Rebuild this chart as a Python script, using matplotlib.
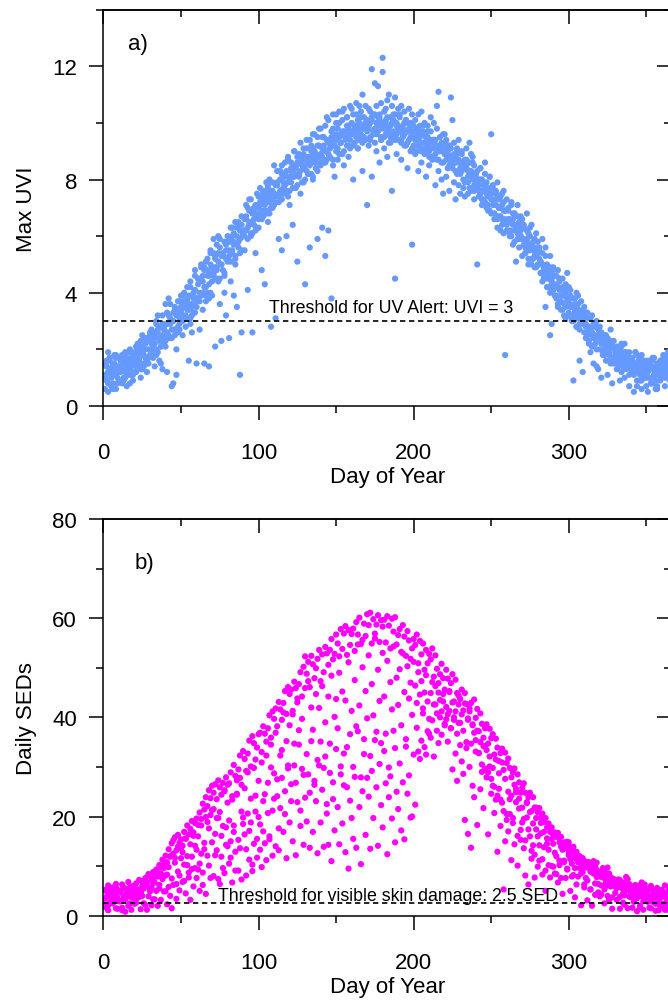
import matplotlib
matplotlib.use('Agg')
import matplotlib.pyplot as plt
import numpy as np
from matplotlib.ticker import MultipleLocator

plt.rcParams['font.family'] = ['Liberation Sans', 'DejaVu Sans']

# ---------------- data ----------------
# Max UVI, four yearly series, one value per day of year (1..365)
uvi_a = [
    1.5,0.9,1.2,1.7,1.0,1.4,1.8,1.1,0.8,1.3,
    1.2,1.8,1.6,1.0,1.4,1.9,1.3,1.7,1.1,1.5,
    2.1,1.5,1.7,2.3,1.9,1.4,2.0,1.6,2.4,1.8,
    2.0,2.6,2.2,1.8,2.7,2.4,2.1,2.9,2.5,2.3,
    2.6,3.2,2.9,2.4,3.0,2.7,3.4,2.8,3.1,3.3,
    3.0,3.6,3.2,3.8,3.4,2.9,3.5,3.9,3.3,3.7,
    3.8,4.4,3.9,4.6,4.2,3.7,4.8,4.3,4.0,4.7,
    4.6,5.2,4.8,5.4,4.5,5.0,5.3,4.7,5.5,5.1,
    5.3,5.9,5.4,5.8,5.2,6.0,5.6,6.2,5.5,6.1,
    6.0,6.6,6.3,6.9,6.1,6.5,6.8,6.2,7.0,6.6,
    6.8,7.3,6.7,7.1,7.5,6.9,7.2,7.6,7.0,7.4,
    7.2,7.8,7.4,8.0,7.3,7.7,8.1,7.5,7.9,7.6,
    8.3,7.7,8.1,8.5,7.8,8.2,8.6,7.9,8.4,8.0,
    8.7,8.2,8.5,9.0,8.1,8.6,8.9,8.3,8.8,8.5,
    9.1,8.6,9.0,8.7,9.3,8.8,9.2,8.5,9.4,9.0,
    9.4,8.9,9.3,9.7,9.0,9.5,9.2,9.8,9.1,9.6,
    9.2,9.8,9.5,9.1,10.0,9.6,9.3,9.9,9.4,10.1,
    9.9,9.4,10.2,9.6,9.3,10.0,9.7,10.3,9.5,9.8,
    9.5,10.1,9.7,9.3,9.9,10.2,9.6,9.4,10.0,9.8,
    9.8,9.3,9.6,10.0,9.2,9.7,9.4,9.9,9.1,9.5,
    9.6,9.0,9.4,9.7,9.1,9.3,8.9,9.5,9.2,8.8,
    9.3,8.8,9.1,9.4,8.7,9.0,9.2,8.6,9.1,8.9,
    8.9,8.4,8.8,9.1,8.5,8.7,8.3,8.9,8.6,8.2,
    8.5,8.0,8.4,8.7,7.9,8.3,8.1,8.6,7.8,8.2,
    7.9,7.4,8.0,7.6,7.2,7.8,7.5,7.1,7.7,7.3,
    7.3,6.8,7.1,7.4,6.7,7.0,6.6,7.2,6.9,6.5,
    6.6,6.1,6.5,6.8,6.2,6.4,5.9,6.3,6.0,6.4,
    5.9,5.4,5.8,6.1,5.5,5.7,5.2,5.6,5.3,5.5,
    5.2,4.7,5.0,4.6,5.3,4.8,4.5,4.9,4.3,4.6,
    4.3,3.8,4.2,4.5,3.9,4.1,3.6,4.0,3.7,3.8,
    3.6,3.1,3.5,3.8,3.2,3.4,2.9,3.3,3.0,3.2,
    2.9,2.5,2.8,3.1,2.6,2.4,2.9,2.3,2.7,2.5,
    2.4,1.9,2.2,2.5,2.0,1.8,2.3,2.1,1.7,2.0,
    1.9,1.5,1.8,2.1,1.6,1.4,1.9,1.5,1.7,1.3,
    1.6,1.2,1.5,1.8,1.3,1.1,1.6,1.4,1.0,1.5,
    1.4,1.0,1.3,1.6,1.1,0.9,1.4,1.2,1.5,1.0,
    1.3,1.6,1.1,1.4,1.2]
uvi_b = [
    1.0,1.6,1.9,1.2,0.7,1.5,1.1,1.8,1.4,0.9,
    1.7,1.3,0.9,1.8,1.5,1.1,2.0,1.4,1.6,1.9,
    1.6,2.2,1.9,1.3,2.5,2.0,1.7,2.3,1.5,2.6,
    2.7,2.1,2.5,3.0,1.9,2.8,2.4,3.2,2.2,2.9,
    3.3,2.5,3.6,3.0,2.7,3.5,3.2,2.6,3.7,3.4,
    3.9,3.5,3.1,4.2,3.6,4.4,3.2,4.0,4.6,3.8,
    4.5,4.0,5.0,4.4,4.8,3.9,5.2,4.6,5.5,4.9,
    5.4,4.9,5.7,5.1,5.9,5.3,4.8,5.8,5.2,6.0,
    5.8,6.3,5.5,6.1,6.5,5.7,6.4,5.9,6.7,6.0,
    6.6,6.2,7.0,6.5,7.3,6.8,6.4,7.1,6.7,7.4,
    7.2,6.9,7.6,7.3,6.8,7.8,7.4,7.0,7.9,7.5,
    7.8,8.3,7.5,8.0,8.5,7.7,8.2,7.6,8.7,8.1,
    8.6,8.1,9.0,8.4,8.8,8.2,9.3,8.5,8.9,8.7,
    9.1,8.7,9.4,8.8,9.6,9.0,8.6,9.5,9.2,9.8,
    9.5,9.1,9.9,9.4,10.1,9.3,9.7,10.3,9.2,10.0,
    9.8,10.4,9.6,10.1,10.5,9.5,10.2,9.9,10.6,9.7,
    10.3,9.9,10.7,10.1,9.8,10.4,11.0,10.2,10.6,9.9,
    10.5,10.0,11.9,10.3,9.8,10.6,11.3,10.2,10.7,12.3,
    10.4,10.0,10.8,11.0,10.2,10.6,10.3,10.9,9.9,10.5,
    10.2,10.6,9.8,10.4,10.1,9.7,10.5,10.0,10.3,9.9,
    10.1,9.6,10.3,9.9,10.4,9.7,10.0,9.5,9.9,9.4,
    9.7,9.4,10.0,9.2,9.8,11.1,9.5,9.1,9.6,9.3,
    9.4,8.9,9.2,10.9,8.8,9.3,8.7,9.0,9.4,8.6,
    8.9,8.4,8.7,9.1,8.3,8.6,8.9,8.2,8.5,8.0,
    8.3,7.8,8.4,8.0,7.6,8.2,7.9,7.5,8.1,9.6,
    7.7,7.2,7.5,7.9,7.0,7.4,7.1,7.6,6.9,7.3,
    6.9,6.6,7.1,6.4,6.8,6.2,6.7,6.5,6.0,6.6,
    6.3,5.8,6.2,5.6,6.0,6.4,5.5,5.9,5.4,5.8,
    5.5,5.1,5.4,4.8,5.6,5.0,4.7,5.3,4.5,4.9,
    4.6,4.2,4.8,4.4,3.9,4.5,4.1,4.3,3.8,4.2,
    3.9,3.5,3.8,3.3,4.0,3.6,3.2,3.7,3.4,3.1,
    3.3,2.8,3.1,2.6,3.2,2.9,2.5,3.0,2.4,2.8,
    2.6,2.2,2.5,1.9,2.4,2.0,2.7,2.1,2.3,1.8,
    2.1,1.6,2.0,1.8,1.4,2.2,1.7,1.5,1.9,1.4,
    1.7,1.3,1.9,1.2,1.6,0.9,1.8,1.1,1.5,0.7,
    1.6,1.0,1.4,0.8,1.7,1.2,0.6,1.5,1.1,1.3,
    1.7,1.0,1.5,1.2,0.9]
uvi_c = [
    0.6,1.4,0.5,1.7,1.1,0.8,1.5,0.6,1.3,1.2,
    1.6,0.8,1.5,1.9,0.7,1.3,1.6,1.1,0.9,1.8,
    1.2,2.0,1.4,1.0,1.9,1.5,2.4,1.2,1.7,2.5,
    1.9,2.6,1.4,2.9,3.2,1.6,2.1,1.3,2.8,3.6,
    1.2,3.8,2.4,0.7,0.8,3.4,2.0,3.7,2.7,3.9,
    2.5,4.0,3.1,3.7,1.6,4.2,2.6,3.8,4.8,1.5,
    4.5,2.7,4.9,3.4,1.5,5.1,4.0,1.4,5.4,3.9,
    5.9,2.1,4.5,6.0,3.6,2.3,5.3,4.0,3.2,5.8,
    2.4,4.4,6.3,3.9,5.0,3.5,6.5,1.1,2.6,6.2,
    5.5,7.1,4.1,7.3,6.0,2.6,7.0,5.4,7.5,6.3,
    7.7,4.8,7.5,4.3,7.9,6.5,8.0,2.8,7.6,8.5,
    3.1,7.8,5.9,8.3,5.5,7.9,8.6,6.0,8.8,7.1,
    8.4,6.4,9.0,8.5,5.1,8.9,7.5,8.7,9.1,4.3,
    9.4,8.2,5.6,9.2,8.0,9.6,8.4,5.9,9.8,8.9,
    6.3,9.5,5.3,10.2,6.2,9.1,3.8,9.8,8.1,10.3,
    8.7,10.0,9.3,10.4,8.5,9.7,10.2,8.8,9.4,10.5,
    8.0,9.9,10.3,9.1,10.6,9.4,8.3,9.8,10.0,7.1,
    9.2,10.4,8.1,9.6,11.4,9.0,10.2,8.6,9.4,11.8,
    9.1,10.5,8.8,9.6,9.3,7.6,10.1,4.5,8.9,9.4,
    10.3,8.7,9.5,9.2,10.0,8.4,9.7,9.0,5.7,9.6,
    8.9,9.4,8.3,9.7,8.6,9.9,9.0,8.1,9.5,8.5,
    10.2,8.7,9.4,7.8,10.6,8.3,9.1,8.0,7.5,9.6,
    8.1,9.2,7.6,8.6,10.1,7.9,7.3,9.1,7.8,7.5,
    9.0,7.7,7.4,8.5,7.5,9.3,7.6,8.8,7.3,8.2,
    5.0,7.6,8.4,7.1,7.3,8.6,7.0,6.9,8.1,6.8,
    7.8,6.6,7.6,6.3,7.3,6.2,7.5,6.1,1.8,6.4,
    7.0,6.0,7.2,5.7,6.8,5.1,7.1,5.9,6.7,5.3,
    6.4,5.6,6.8,5.0,6.3,5.2,5.8,4.9,6.1,5.0,
    5.6,4.7,5.9,4.5,3.5,4.9,4.2,2.5,2.9,4.8,
    3.9,4.6,3.5,4.5,3.4,4.2,3.2,3.1,4.7,3.3,
    4.1,3.0,0.9,3.6,2.8,3.9,1.6,3.0,1.2,3.5,
    2.4,3.3,2.2,1.9,2.5,1.5,2.8,2.0,1.3,2.6,
    1.0,2.3,1.8,2.1,1.1,1.6,2.2,0.8,1.5,2.0,
    1.3,1.7,0.9,2.2,1.5,1.0,1.8,1.4,0.7,1.6,
    1.2,0.5,1.9,0.9,1.5,1.7,0.6,1.1,1.6,1.3,
    0.5,1.4,0.8,1.7,1.1,0.6,1.5,1.3,0.9,1.6,
    1.8,0.7,1.3,1.9,1.1]
uvi_d = [
    1.1,1.4,0.8,1.6,1.3,0.6,1.2,1.7,1.0,1.4,
    1.3,1.6,1.0,1.2,1.7,1.4,0.8,1.5,1.8,1.2,
    1.4,1.9,1.6,2.1,1.3,1.8,2.2,1.5,2.0,2.3,
    2.2,1.7,2.4,2.0,2.6,2.3,1.5,2.5,2.7,2.1,
    2.9,2.4,3.1,2.7,3.3,2.5,1.1,3.2,2.9,3.5,
    3.2,3.7,2.8,3.4,3.9,3.1,3.6,3.3,4.1,3.5,
    4.3,3.7,4.5,4.0,4.9,4.2,4.6,3.8,5.0,4.4,
    4.7,5.3,4.9,4.4,5.6,5.0,5.4,4.6,5.7,5.2,
    5.5,5.1,6.0,5.7,5.3,6.3,5.8,5.4,6.4,6.0,
    6.2,6.7,5.9,6.4,6.9,6.1,6.6,7.0,6.3,6.8,
    7.1,6.6,7.4,6.9,7.2,7.7,6.8,7.3,7.5,7.1,
    7.4,7.9,7.2,7.6,8.2,7.5,7.8,8.3,7.4,8.0,
    7.9,8.4,8.2,7.7,8.6,8.1,8.3,8.8,7.9,8.5,
    8.3,8.8,8.6,8.2,9.1,8.7,8.4,9.2,8.8,8.6,
    8.8,9.2,8.6,9.4,8.9,9.1,9.5,8.7,9.2,9.6,
    9.1,9.5,9.3,8.9,9.7,9.4,9.9,9.2,9.6,10.0,
    9.6,9.3,9.9,9.7,9.4,10.2,9.8,9.5,10.0,9.7,
    9.8,9.5,10.1,9.7,10.3,9.6,9.9,10.1,9.4,10.0,
    9.9,9.6,10.2,9.8,9.5,10.0,9.7,10.3,9.6,9.9,
    9.7,9.4,9.9,9.6,10.1,9.3,9.8,9.5,9.7,9.2,
    9.4,9.8,9.2,9.5,9.0,9.6,9.3,9.1,9.7,9.0,
    9.1,8.8,9.4,8.9,9.2,8.7,9.0,9.3,8.6,9.1,
    8.7,9.0,8.5,8.8,8.4,8.9,8.6,8.2,8.7,8.4,
    8.3,8.6,7.9,8.4,8.1,7.7,8.3,8.0,7.6,8.1,
    7.7,8.0,7.5,7.3,7.8,7.2,7.6,7.4,6.9,7.5,
    7.1,6.8,7.3,6.6,7.0,6.7,6.4,6.9,6.6,6.2,
    6.5,6.2,6.0,6.6,5.8,6.3,6.1,5.6,6.2,5.9,
    5.7,5.4,5.9,5.2,5.6,5.0,5.5,5.3,4.9,5.4,
    5.0,4.7,4.4,4.9,4.5,4.2,4.7,4.0,4.4,4.1,
    4.2,3.9,3.6,4.1,3.7,3.4,3.9,3.5,3.2,3.6,
    3.5,3.2,3.0,3.4,2.8,3.1,2.7,3.3,2.9,2.6,
    2.8,2.6,2.3,2.7,2.1,2.5,2.2,1.4,2.4,2.0,
    2.2,1.8,2.0,1.6,2.3,1.9,1.5,2.1,1.7,1.9,
    1.8,1.4,1.7,1.2,1.6,1.9,1.3,1.5,1.1,1.7,
    1.5,1.1,1.3,0.7,1.4,1.2,0.9,1.6,1.3,1.0,
    1.2,1.5,0.8,1.3,1.0,1.4,0.7,1.1,1.6,1.2,
    1.4,1.1,1.7,1.0,1.3]

# Daily SEDs, three yearly series, one value per day of year (1..365)
sed_a = [
    5.2,3.8,6.1,4.5,3.1,5.7,4.2,6.4,3.6,5.0,
    4.7,6.3,3.9,5.5,4.4,6.8,5.1,3.7,6.0,4.9,
    6.5,5.3,7.2,4.8,6.9,5.8,7.6,6.2,8.1,5.6,
    7.4,8.8,6.7,9.3,7.9,10.2,8.5,11.3,9.6,12.1,
    10.8,13.4,11.9,14.6,12.5,15.8,13.2,16.3,14.7,15.4,
    14.1,16.9,15.6,18.2,16.4,17.5,19.1,16.8,18.7,19.6,
    18.3,20.8,19.5,22.6,21.4,23.9,22.1,25.3,23.7,26.2,
    24.8,26.5,23.5,27.3,25.9,24.4,26.8,25.1,27.9,26.4,
    26.7,28.9,24.1,30.4,28.2,27.3,29.5,32.3,26.4,33.2,
    31.6,29.2,32.7,35.3,30.1,36.2,34.8,31.5,33.9,36.6,
    36.9,33.0,38.2,36.7,35.1,37.8,40.4,35.9,41.2,39.7,
    41.8,38.2,43.1,41.6,39.5,42.9,45.3,40.7,46.1,44.7,
    45.6,41.3,47.2,45.9,43.8,46.7,49.1,44.2,50.2,52.3,
    48.8,51.2,46.1,52.4,50.7,47.9,49.9,51.8,53.6,47.3,
    52.7,49.1,54.2,52.9,50.6,53.6,55.8,51.7,52.8,56.7,
    54.9,52.3,57.8,53.8,56.9,58.4,52.6,57.6,54.6,56.8,
    57.9,53.4,59.2,56.7,60.1,54.8,55.6,58.9,56.4,60.8,
    58.6,61.1,54.9,59.8,56.9,58.7,60.6,55.2,59.6,58.3,
    59.7,55.1,60.4,58.5,53.9,59.9,57.3,60.2,54.7,56.6,
    57.8,53.2,58.6,56.3,52.4,57.4,55.5,51.8,53.9,55.8,
    54.6,56.7,50.9,55.4,52.7,54.9,49.6,53.6,50.9,52.8,
    51.7,53.9,48.2,52.5,49.8,46.9,48.7,50.8,47.9,45.6,
    49.6,47.8,45.1,46.9,48.7,43.2,47.6,44.9,42.6,43.7,
    45.6,41.4,44.9,42.7,39.8,41.8,42.9,38.6,43.6,39.9,
    41.7,37.2,40.8,38.7,35.9,37.8,38.6,34.7,37.7,35.8,
    36.6,32.5,35.7,33.9,31.2,32.8,33.7,29.4,32.9,30.8,
    31.7,29.8,27.9,28.9,29.7,25.6,28.5,26.9,24.8,25.8,
    26.7,24.8,22.9,23.9,24.8,21.1,23.9,21.8,19.7,20.9,
    21.7,19.8,20.6,18.9,19.7,17.8,18.6,16.9,17.8,16.2,
    16.8,15.9,16.7,14.8,15.9,13.9,14.8,13.7,14.9,12.8,
    13.8,12.7,13.9,11.8,12.9,10.9,11.8,10.7,11.6,9.8,
    10.9,9.7,10.8,8.9,9.8,8.7,9.9,7.8,8.9,7.9,
    8.8,7.7,8.9,6.8,7.9,6.9,7.8,6.7,7.1,5.9,
    6.9,5.8,7.2,5.6,6.7,4.9,6.1,5.3,6.4,4.7,
    5.9,4.6,6.2,3.8,5.4,6.1,3.9,5.2,6.3,4.1,
    5.1,3.7,6.0,3.2,5.3,4.1,5.6,2.9,4.3,5.2,
    3.9,6.1,2.8,5.0,4.4]
sed_b = [
    3.4,4.9,2.1,4.6,5.3,2.8,5.0,1.5,3.2,4.7,
    2.9,1.1,5.6,3.3,3.8,5.0,2.5,4.2,3.7,2.4,
    4.1,3.6,5.3,4.8,6.0,5.5,2.2,6.7,8.4,4.9,
    5.6,3.3,7.8,5.0,8.5,6.2,9.7,7.4,4.9,8.1,
    8.3,5.8,12.0,7.5,15.2,10.7,6.4,13.9,8.1,11.6,
    12.8,7.0,15.5,10.2,8.7,14.4,11.9,16.1,9.6,13.3,
    16.0,10.5,18.2,8.7,13.4,19.9,12.1,17.6,20.3,14.8,
    21.5,12.2,19.7,7.4,20.9,16.1,9.6,25.3,17.8,14.0,
    19.2,11.7,23.4,16.9,9.1,24.6,15.3,27.8,21.0,18.5,
    25.7,13.4,28.9,17.1,23.6,10.3,29.8,21.0,15.5,27.2,
    18.4,30.9,23.1,14.6,32.3,26.8,16.0,34.5,21.2,28.7,
    36.9,24.1,17.6,32.3,27.8,41.0,20.5,35.2,29.7,38.4,
    23.1,40.6,30.3,26.8,43.0,34.5,21.2,39.7,28.4,45.9,
    32.6,47.3,24.8,42.0,37.5,27.2,44.7,31.4,41.9,35.1,
    46.3,29.8,39.0,22.5,44.2,34.7,48.4,26.9,40.1,33.6,
    37.8,49.0,28.5,45.2,32.7,43.4,25.9,51.1,36.6,41.3,
    30.0,47.5,38.2,54.7,42.4,27.9,50.1,35.6,45.3,39.8,
    52.5,32.2,46.7,40.4,55.9,37.1,49.6,43.3,34.8,53.0,
    44.2,36.7,51.4,29.9,47.1,41.6,54.3,33.8,48.0,42.5,
    49.7,38.4,52.9,45.1,35.6,50.3,43.8,47.0,40.5,51.2,
    46.4,42.9,49.1,44.6,47.3,41.8,45.0,48.5,43.2,39.7,
    44.9,47.1,42.6,46.3,40.8,45.0,43.5,41.2,44.7,38.4,
    42.1,40.6,45.3,37.8,43.0,39.5,41.2,36.7,44.4,38.9,
    40.6,37.3,42.8,35.0,39.5,41.2,34.7,38.4,36.9,33.1,
    37.3,32.8,35.0,30.5,34.2,29.7,33.4,28.9,32.1,27.6,
    29.8,26.0,31.5,24.2,28.7,23.4,30.9,21.1,27.6,19.3,
    25.0,20.5,24.2,18.7,26.4,22.9,16.1,23.6,17.3,21.8,
    19.5,15.2,22.7,17.4,20.9,13.1,18.6,12.3,21.8,16.0,
    14.2,18.7,11.4,16.9,9.1,15.6,13.3,17.8,10.0,14.5,
    12.7,8.4,15.9,11.1,7.6,13.3,10.8,14.0,9.5,12.2,
    11.4,7.9,13.1,9.6,6.3,10.8,12.0,8.5,11.2,5.7,
    9.9,7.1,10.6,5.3,8.8,11.0,6.5,9.2,4.7,8.4,
    6.1,9.6,5.3,7.8,4.0,8.5,6.2,3.7,7.4,5.9,
    5.6,7.3,3.8,6.0,4.5,2.2,5.7,7.4,3.9,4.1,
    4.3,2.8,6.0,3.5,5.2,1.7,4.4,2.9,5.1,3.6,
    2.8,4.0,1.5,5.2,3.7,2.4,4.9,1.1,3.6,2.3,
    4.5,1.2,3.7,2.4,5.9]
sed_c = [
    1.8,5.3,1.1,2.6,4.0,2.5,3.2,5.7,1.4,2.9,
    5.1,1.6,3.3,0.8,4.5,2.0,5.7,1.2,4.9,3.4,
    2.6,5.1,3.8,1.3,4.0,2.5,6.7,1.2,3.9,5.4,
    2.1,6.6,3.3,8.8,2.0,5.5,3.2,7.7,10.4,4.9,
    2.3,9.8,4.0,1.5,6.2,11.7,3.4,8.9,5.1,13.6,
    6.8,10.3,4.5,12.0,7.7,3.2,9.4,5.9,14.1,7.6,
    9.3,5.0,12.5,6.2,14.7,4.4,18.9,10.1,7.6,21.3,
    8.0,16.5,13.2,19.7,6.4,11.9,18.1,8.6,14.3,22.8,
    10.5,15.0,6.7,18.2,12.9,24.4,9.1,13.6,7.3,19.8,
    16.4,8.1,20.6,11.3,18.8,9.0,14.5,24.2,11.7,19.9,
    13.3,9.8,17.0,24.5,11.2,20.7,15.4,29.9,12.1,23.6,
    14.0,27.5,13.2,21.7,33.4,16.9,25.1,11.6,30.3,18.8,
    26.5,15.0,34.7,12.2,22.9,37.4,18.1,29.6,14.3,23.8,
    19.0,28.5,13.7,35.2,16.9,26.4,23.1,12.6,30.3,18.8,
    25.4,13.9,32.1,20.6,14.3,28.8,11.0,23.5,17.2,43.7,
    21.9,14.4,30.1,18.6,26.3,12.8,34.0,9.5,23.2,19.7,
    15.5,28.0,13.7,37.2,21.9,10.4,25.1,32.6,16.3,27.8,
    24.0,13.5,29.2,19.7,35.4,25.9,14.1,30.6,22.3,17.8,
    33.2,26.7,12.4,23.9,28.1,19.6,37.3,14.8,25.0,21.5,
    30.7,17.2,26.9,15.4,34.1,24.6,28.3,19.8,20.0,32.5,
    22.4,37.9,33.1,31.6,35.3,40.8,34.0,32.5,37.2,36.7,
    35.9,39.4,32.1,42.6,37.3,34.8,40.0,36.5,43.2,38.7,
    39.6,35.1,41.3,37.8,29.5,40.0,32.7,27.2,38.9,34.4,
    31.1,28.6,19.3,33.8,16.5,30.0,13.7,26.2,23.9,35.4,
    18.3,32.8,25.5,29.0,21.7,34.2,27.9,16.4,30.1,24.6,
    26.2,20.7,23.4,12.9,25.6,18.1,22.8,5.3,15.0,20.5,
    17.0,23.5,11.2,19.7,14.4,24.9,10.1,21.6,15.3,18.8,
    13.6,8.1,19.8,6.3,16.0,11.5,14.2,7.7,17.4,9.9,
    11.1,16.6,8.3,13.8,5.0,14.5,10.2,7.7,15.4,9.9,
    8.5,12.0,6.7,10.2,13.9,4.4,11.1,7.6,9.3,14.8,
    5.0,10.5,8.2,3.7,11.4,7.9,9.6,2.1,8.8,6.3,
    7.6,3.1,9.8,5.3,2.0,8.5,4.2,10.7,6.4,3.9,
    4.3,7.8,2.5,6.0,9.7,3.2,5.9,1.4,7.1,4.6,
    3.2,6.7,1.4,5.9,2.6,4.1,7.8,1.5,5.2,3.7,
    1.6,5.1,3.8,0.9,4.5,2.0,6.7,1.2,3.9,5.4,
    3.1,1.6,5.3,2.8,4.5,1.0,3.7,5.2,1.9,2.4,
    2.0,4.5,1.2,3.7,5.4]

uvi_series = [uvi_a, uvi_b, uvi_c, uvi_d]
sed_series = [sed_a, sed_b, sed_c]

uvi_threshold = 3.0
sed_threshold = 2.5
uvi_threshold_label = "Threshold for UV Alert: UVI = 3"
sed_threshold_label = "Threshold for visible skin damage: 2.5 SED"

# ---------------- figure ----------------
W, H = 668, 1003
fig = plt.figure(figsize=(W / 100, H / 100), dpi=100)

x_left = 103.5
ax_w = 567.6
axA = fig.add_axes([x_left / W, (H - 407) / H, ax_w / W, (407 - 10.7) / H])
axB = fig.add_axes([x_left / W, (H - 916.7) / H, ax_w / W, (916.7 - 520) / H])

TICK_FS = 16
LABEL_FS = 16
MS = 20


def style_axes(ax, ymax, ymaj, ymin):
    ax.set_xlim(0, 366)
    ax.set_ylim(0, ymax)
    ax.xaxis.set_major_locator(MultipleLocator(100))
    ax.xaxis.set_minor_locator(MultipleLocator(50))
    ax.yaxis.set_major_locator(MultipleLocator(ymaj))
    ax.yaxis.set_minor_locator(MultipleLocator(ymin))
    ax.tick_params(axis='both', which='both', direction='out',
                   top=False, right=False, width=1.1, labelsize=TICK_FS)
    ax.tick_params(axis='both', which='major', length=10)
    ax.tick_params(axis='both', which='minor', length=5)
    ax.tick_params(axis='x', which='major', pad=16)
    ax.tick_params(axis='y', which='major', pad=9)
    for sp in ax.spines.values():
        sp.set_linewidth(1.1)
    # inward ticks on top and right
    sx = ax.secondary_xaxis('top')
    sx.xaxis.set_major_locator(MultipleLocator(100))
    sx.xaxis.set_minor_locator(MultipleLocator(50))
    sx.tick_params(axis='x', which='both', direction='in', labeltop=False, width=1.1)
    sx.tick_params(axis='x', which='major', length=10)
    sx.tick_params(axis='x', which='minor', length=5)
    sx.spines['top'].set_linewidth(1.1)
    sy = ax.secondary_yaxis('right')
    sy.yaxis.set_major_locator(MultipleLocator(ymaj))
    sy.yaxis.set_minor_locator(MultipleLocator(ymin))
    sy.tick_params(axis='y', which='both', direction='in', labelright=False, width=1.1)
    sy.tick_params(axis='y', which='major', length=10)
    sy.tick_params(axis='y', which='minor', length=5)
    sy.spines['right'].set_linewidth(1.1)


# Panel a
for s in uvi_series:
    days = np.arange(1, len(s) + 1)
    axA.scatter(days, s, s=MS, color='#6699ff', edgecolors='none', zorder=2)
axA.axhline(uvi_threshold, color='black', lw=1.2, ls=(0, (3.2, 2.2)), zorder=3)
axA.text(185.4, 3.32, uvi_threshold_label, ha='center', va='baseline', fontsize=12.8)
axA.text(15.8, 12.8, 'a)', ha='left', va='center', fontsize=16)
style_axes(axA, 14, 4, 2)
axA.set_xlabel('Day of Year', fontsize=LABEL_FS, labelpad=2)
axA.set_ylabel('Max UVI', fontsize=LABEL_FS, labelpad=11)

# Panel b
for s in sed_series:
    days = np.arange(1, len(s) + 1)
    axB.scatter(days, s, s=MS, color='#ff00ff', edgecolors='none', zorder=2)
axB.axhline(sed_threshold, color='black', lw=1.2, ls=(0, (3.2, 2.2)), zorder=3)
axB.text(183.3, 3.16, sed_threshold_label, ha='center', va='baseline', fontsize=12.8)
axB.text(20.3, 71.2, 'b)', ha='left', va='center', fontsize=16)
style_axes(axB, 80, 20, 10)
axB.set_xlabel('Day of Year', fontsize=LABEL_FS, labelpad=2)
axB.set_ylabel('Daily SEDs', fontsize=LABEL_FS, labelpad=11)

fig.savefig('out.png', dpi=100)
